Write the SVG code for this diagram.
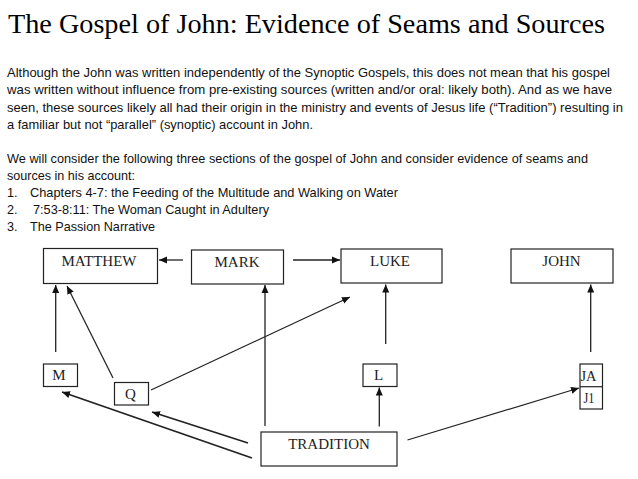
<svg xmlns="http://www.w3.org/2000/svg" width="638" height="479" viewBox="0 0 638 479">
<style>
.title{font-family:"Liberation Serif","Times New Roman",serif;font-size:28.2px;fill:#000}
.body{font-family:"Liberation Sans",Arial,sans-serif;font-size:12.6px;fill:#111}
.box{fill:#fff;stroke:#222;stroke-width:1.2}
.lbl{font-family:"Liberation Serif","Times New Roman",serif;font-size:15px;fill:#222;text-anchor:middle}
.sm{font-family:"Liberation Serif","Times New Roman",serif;font-size:15px;fill:#222}
.c{fill:none;stroke:#222;stroke-width:1.3;marker-end:url(#ah)}
.thick{stroke-width:1.8}
.thin{stroke-width:1.2}
</style>
<defs>
<marker id="ah" markerUnits="userSpaceOnUse" markerWidth="9" markerHeight="8" refX="8" refY="4" orient="auto">
<path d="M0,0.5 L8,4 L0,7.5 z" fill="#111"/>
</marker>
</defs>
<rect width="638" height="479" fill="#fff"/>
<g id="text">
<text class="title" x="8" y="33" textLength="597" lengthAdjust="spacingAndGlyphs">The Gospel of John: Evidence of Seams and Sources</text>
<text class="body" x="7" y="77" textLength="603" lengthAdjust="spacingAndGlyphs">Although the John was written independently of the Synoptic Gospels, this does not mean that his gospel</text>
<text class="body" x="7" y="94" textLength="605" lengthAdjust="spacingAndGlyphs">was written without influence from pre-existing sources (written and/or oral: likely both). And as we have</text>
<text class="body" x="7" y="111.5" textLength="616" lengthAdjust="spacingAndGlyphs">seen, these sources likely all had their origin in the ministry and events of Jesus life (“Tradition”) resulting in</text>
<text class="body" x="7" y="128.5" textLength="306" lengthAdjust="spacingAndGlyphs">a familiar but not “parallel” (synoptic) account in John.</text>
<text class="body" x="7" y="162.5" textLength="581" lengthAdjust="spacingAndGlyphs">We will consider the following three sections of the gospel of John and consider evidence of seams and</text>
<text class="body" x="7" y="179.5" textLength="128" lengthAdjust="spacingAndGlyphs">sources in his account:</text>
<text class="body" x="7" y="196.5">1.</text>
<text class="body" x="30" y="196.5" textLength="368" lengthAdjust="spacingAndGlyphs">Chapters 4-7: the Feeding of the Multitude and Walking on Water</text>
<text class="body" x="7" y="213.5">2.</text>
<text class="body" x="33" y="213.5" textLength="236" lengthAdjust="spacingAndGlyphs">7:53-8:11: The Woman Caught in Adultery</text>
<text class="body" x="7" y="230.5">3.</text>
<text class="body" x="30" y="230.5" textLength="125" lengthAdjust="spacingAndGlyphs">The Passion Narrative</text>
</g>
<g id="connectors">
<line class="c" x1="183" y1="260" x2="159" y2="260"/>
<line class="c" x1="293" y1="260" x2="340" y2="260"/>
<line class="c" x1="55.7" y1="352" x2="55.7" y2="285"/>
<line class="c" x1="113" y1="378" x2="67" y2="286"/>
<line class="c thin" x1="151" y1="390" x2="350" y2="297"/>
<line class="c" x1="265" y1="426" x2="265" y2="285"/>
<line class="c thick" x1="252" y1="458" x2="62" y2="392"/>
<line class="c thick" x1="248" y1="443" x2="152" y2="412"/>
<line class="c" x1="379.3" y1="426.5" x2="379.3" y2="387.5"/>
<line class="c" x1="385.7" y1="344" x2="385.7" y2="284.5"/>
<line class="c" x1="590.7" y1="352" x2="590.7" y2="284.5"/>
<line class="c thin" x1="407.5" y1="440" x2="579" y2="388"/>
</g>
<g id="matthew"><rect class="box" x="43.5" y="248.5" width="114" height="35"/><text class="lbl" x="99" y="266">MATTHEW</text></g>
<g id="mark"><rect class="box" x="191.5" y="250" width="92" height="34"/><text class="lbl" x="237" y="267">MARK</text></g>
<g id="luke"><rect class="box" x="341" y="249" width="101" height="34"/><text class="lbl" x="390" y="266">LUKE</text></g>
<g id="john"><rect class="box" x="511" y="249" width="102" height="34"/><text class="lbl" x="561.5" y="266">JOHN</text></g>
<g id="m"><rect class="box" x="43.5" y="364" width="34" height="22.5"/><text class="lbl" x="59" y="380">M</text></g>
<g id="q"><rect class="box" x="114.5" y="382.5" width="34" height="22.5"/><text class="lbl" x="130.5" y="398.5">Q</text></g>
<g id="l"><rect class="box" x="363" y="364" width="34" height="22.5"/><text class="lbl" x="378.5" y="380">L</text></g>
<g id="ja-j1"><rect class="box" x="580" y="364" width="22.5" height="45"/><line x1="580" y1="386.7" x2="602.5" y2="386.7" stroke="#222" stroke-width="1.2"/><text class="sm" x="580.5" y="380.5" textLength="16" lengthAdjust="spacingAndGlyphs">JA</text><text class="sm" x="583.5" y="403" textLength="11" lengthAdjust="spacingAndGlyphs">J1</text></g>
<g id="tradition"><rect class="box" x="261" y="432" width="136" height="34"/><text class="lbl" x="329" y="448.5">TRADITION</text></g>
</svg>
